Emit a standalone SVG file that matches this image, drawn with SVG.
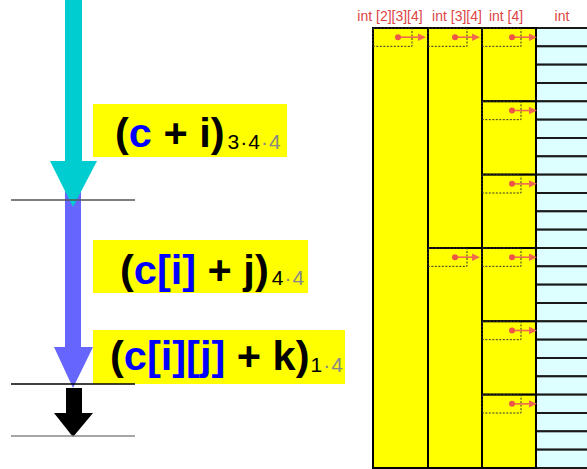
<svg xmlns="http://www.w3.org/2000/svg" width="587" height="469" viewBox="0 0 587 469">
<style>
.lbl{font-family:"Liberation Sans",Arial,sans-serif;font-weight:bold;font-size:41.5px;fill:#000}
.b{fill:#0000ff}
.sub{font-weight:normal;font-size:21px;letter-spacing:1px}
.g{fill:#888}
.hdr{font-family:"Liberation Sans",Arial,sans-serif;font-size:14px;fill:#dd4444;text-anchor:middle}
.blk{fill:#ffff00;stroke:#000;stroke-width:2}
.cell{fill:#ddffff;stroke:#1a1a1a;stroke-width:2}
.ptr{fill:none;stroke:#333;stroke-width:1;stroke-dasharray:2,1.5}
.pl{stroke:#f06a50;stroke-width:1.6}
.pd{fill:#ee5548}
.ph{fill:#f06a50}
.box{fill:#ffff00}
</style>

<!-- labels -->
<g id="label1">
<rect class="box" x="93" y="104" width="194" height="53"/>
<text class="lbl" x="115" y="147">(<tspan class="b">c</tspan> + i)<tspan class="sub" dx="3" dy="2">3·4</tspan><tspan class="sub g">·4</tspan></text>
</g>
<g id="label2">
<rect class="box" x="93" y="240" width="215" height="53"/>
<text class="lbl" x="120" y="284">(<tspan class="b">c[i]</tspan> + j)<tspan class="sub" dx="3" dy="1">4</tspan><tspan class="sub g">·4</tspan></text>
</g>
<g id="label3">
<rect class="box" x="93" y="330" width="252" height="54"/>
<text class="lbl" x="110" y="370">(<tspan class="b">c[i][j]</tspan> + k)<tspan class="sub" dx="1" dy="2">1</tspan><tspan class="sub g">·4</tspan></text>
</g>

<!-- left arrows -->
<g id="arrows-left">
<rect x="65" y="160" width="16" height="188" fill="#6666ff"/>
<polygon points="54,347 93,347 73,388" fill="#6666ff"/>
<rect x="65" y="0" width="17" height="162" fill="#00cdd0"/>
<polygon points="50,161 97,161 73,207" fill="#00cdd0"/>
<rect x="66" y="388" width="16" height="26" fill="#000"/>
<polygon points="54,413 93,413 73,437" fill="#000"/>
<line x1="11" y1="200" x2="135" y2="200" stroke="#555" stroke-width="1.5"/>
<line x1="11" y1="384" x2="135" y2="384" stroke="#000" stroke-width="1.3"/>
<line x1="11" y1="436" x2="135" y2="436" stroke="#888" stroke-width="1.5"/>
</g>

<!-- headers -->
<g id="headers">
<text class="hdr" x="390" y="21">int [2][3][4]</text>
<text class="hdr" x="457" y="21">int [3][4]</text>
<text class="hdr" x="506" y="21">int [4]</text>
<text class="hdr" x="562" y="21">int</text>
</g>

<!-- int cells -->
<g id="ints">
<rect class="cell" x="536" y="28" width="60" height="18.33"/>
<rect class="cell" x="536" y="46.33" width="60" height="18.33"/>
<rect class="cell" x="536" y="64.67" width="60" height="18.33"/>
<rect class="cell" x="536" y="83" width="60" height="18.33"/>
<rect class="cell" x="536" y="101.33" width="60" height="18.33"/>
<rect class="cell" x="536" y="119.67" width="60" height="18.33"/>
<rect class="cell" x="536" y="138" width="60" height="18.33"/>
<rect class="cell" x="536" y="156.33" width="60" height="18.33"/>
<rect class="cell" x="536" y="174.67" width="60" height="18.33"/>
<rect class="cell" x="536" y="193" width="60" height="18.33"/>
<rect class="cell" x="536" y="211.33" width="60" height="18.33"/>
<rect class="cell" x="536" y="229.67" width="60" height="18.33"/>
<rect class="cell" x="536" y="248" width="60" height="18.33"/>
<rect class="cell" x="536" y="266.33" width="60" height="18.33"/>
<rect class="cell" x="536" y="284.67" width="60" height="18.33"/>
<rect class="cell" x="536" y="303" width="60" height="18.33"/>
<rect class="cell" x="536" y="321.33" width="60" height="18.33"/>
<rect class="cell" x="536" y="339.67" width="60" height="18.33"/>
<rect class="cell" x="536" y="358" width="60" height="18.33"/>
<rect class="cell" x="536" y="376.33" width="60" height="18.33"/>
<rect class="cell" x="536" y="394.67" width="60" height="18.33"/>
<rect class="cell" x="536" y="413" width="60" height="18.33"/>
<rect class="cell" x="536" y="431.33" width="60" height="18.33"/>
<rect class="cell" x="536" y="449.67" width="60" height="18.33"/>
</g>

<!-- int[4] blocks -->
<g id="int4">
<rect class="blk" x="482" y="28" width="54" height="73.33"/>
<rect class="blk" x="482" y="101.33" width="54" height="73.33"/>
<rect class="blk" x="482" y="174.67" width="54" height="73.33"/>
<rect class="blk" x="482" y="248" width="54" height="73.33"/>
<rect class="blk" x="482" y="321.33" width="54" height="73.33"/>
<rect class="blk" x="482" y="394.67" width="54" height="73.33"/>
</g>
<!-- int[3][4] blocks -->
<g id="int34">
<rect class="blk" x="428" y="28" width="54" height="220"/>
<rect class="blk" x="428" y="248" width="54" height="220"/>
</g>
<!-- int[2][3][4] -->
<g id="int234">
<rect class="blk" x="373" y="28" width="55" height="440"/>
</g>

<!-- pointer connectors -->
<g id="connectors">
<g transform="translate(373,28)"><rect class="ptr" width="39" height="18.33"/><line class="pl" x1="25" y1="9.2" x2="47" y2="9.2"/><polygon class="ph" points="45,5.5 53,9.2 45,12.9"/><circle class="pd" cx="25" cy="9.2" r="3"/></g>

<g transform="translate(428,28)"><rect class="ptr" width="39" height="18.33"/><line class="pl" x1="27" y1="9.2" x2="46" y2="9.2"/><polygon class="ph" points="44,5.5 52,9.2 44,12.9"/><circle class="pd" cx="27" cy="9.2" r="3"/></g>
<g transform="translate(428,248)"><rect class="ptr" width="39" height="18.33"/><line class="pl" x1="27" y1="9.2" x2="46" y2="9.2"/><polygon class="ph" points="44,5.5 52,9.2 44,12.9"/><circle class="pd" cx="27" cy="9.2" r="3"/></g>

<g transform="translate(482,28)"><rect class="ptr" width="39" height="18.33"/><line class="pl" x1="30" y1="9.2" x2="49" y2="9.2"/><polygon class="ph" points="47,5.5 55,9.2 47,12.9"/><circle class="pd" cx="30" cy="9.2" r="3"/></g>
<g transform="translate(482,101.33)"><rect class="ptr" width="39" height="18.33"/><line class="pl" x1="30" y1="9.2" x2="49" y2="9.2"/><polygon class="ph" points="47,5.5 55,9.2 47,12.9"/><circle class="pd" cx="30" cy="9.2" r="3"/></g>
<g transform="translate(482,174.67)"><rect class="ptr" width="39" height="18.33"/><line class="pl" x1="30" y1="9.2" x2="49" y2="9.2"/><polygon class="ph" points="47,5.5 55,9.2 47,12.9"/><circle class="pd" cx="30" cy="9.2" r="3"/></g>
<g transform="translate(482,248)"><rect class="ptr" width="39" height="18.33"/><line class="pl" x1="30" y1="9.2" x2="49" y2="9.2"/><polygon class="ph" points="47,5.5 55,9.2 47,12.9"/><circle class="pd" cx="30" cy="9.2" r="3"/></g>
<g transform="translate(482,321.33)"><rect class="ptr" width="39" height="18.33"/><line class="pl" x1="30" y1="9.2" x2="49" y2="9.2"/><polygon class="ph" points="47,5.5 55,9.2 47,12.9"/><circle class="pd" cx="30" cy="9.2" r="3"/></g>
<g transform="translate(482,394.67)"><rect class="ptr" width="39" height="18.33"/><line class="pl" x1="30" y1="9.2" x2="49" y2="9.2"/><polygon class="ph" points="47,5.5 55,9.2 47,12.9"/><circle class="pd" cx="30" cy="9.2" r="3"/></g>
</g>
</svg>
